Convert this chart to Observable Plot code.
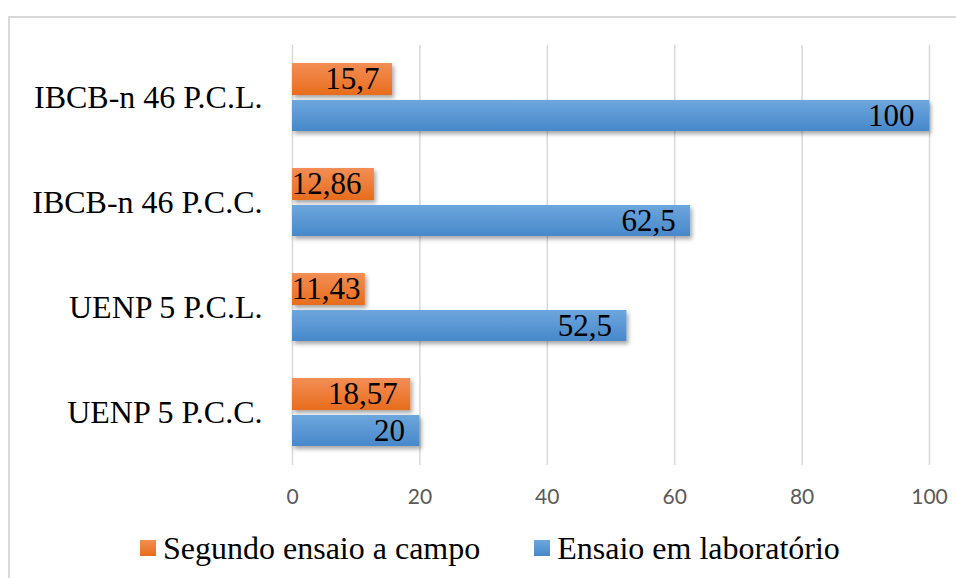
<!DOCTYPE html>
<html>
<head>
<meta charset="utf-8">
<script src="https://cdn.jsdelivr.net/npm/d3@7"></script>
<script src="https://cdn.jsdelivr.net/npm/@observablehq/plot@0.6"></script>
<style>
  html, body { margin: 0; padding: 0; background: #fff; }
  #frame {
    position: absolute; left: 8px; top: 16px; width: 948px; height: 562px;
    border-left: 2px solid #d9d9d9; border-top: 2px solid #d9d9d9; box-sizing: border-box;
  }
  #legend {
    display: flex; align-items: center; height: 60px; padding-left: 130px;
    font-family: "Liberation Serif", "Times New Roman", serif; font-size: 32px; color: #000;
  }
  .item { display: flex; align-items: center; }
  .sw { width: 16px; height: 16px; margin-right: 7px; }
</style>
</head>
<body>
<div id="frame">
  <div id="chart"></div>
  <div id="legend"></div>
</div>
<script>
const categories = ["IBCB-n 46 P.C.L.", "IBCB-n 46 P.C.C.", "UENP 5 P.C.L.", "UENP 5 P.C.C."];
const seriesNames = ["Segundo ensaio a campo", "Ensaio em laboratório"];
const campo = [15.7, 12.86, 11.43, 18.57];
const laboratorio = [100, 62.5, 52.5, 20];
const xTicks = [0, 20, 40, 60, 80, 100];

const rowsCampo = categories.map((c, i) => ({cat: c, value: campo[i]}));
const rowsLab = categories.map((c, i) => ({cat: c, value: laboratorio[i]}));
const fmt = v => String(v).replace(".", ",");
// a label never starts left of the bar's base: short bars push it to the right
const labelX = d => Math.max(d.value, 12.7);

const serif = "Liberation Serif";

const chart = Plot.plot({
  width: 946,
  height: 500,
  marginLeft: 282,
  marginRight: 27,
  marginTop: 27,
  marginBottom: 53,
  style: {background: "transparent", overflow: "visible"},
  x: {domain: [0, 100]},
  y: {domain: categories, paddingInner: 0.352, paddingOuter: 0.176, axis: null},
  marks: [
    Plot.ruleX(xTicks, {stroke: "#d9d9d9", strokeWidth: 1.5}),
    Plot.barX(rowsCampo, {x: "value", y: "cat", fill: "url(#gO)", insetBottom: 36}),
    Plot.barX(rowsLab, {x: "value", y: "cat", fill: "url(#gB)", insetTop: 37}),
    Plot.text(rowsCampo, {x: labelX, y: "cat", text: d => fmt(d.value), textAnchor: "end", dx: -13, dy: -18, fontSize: 31, fontFamily: serif, fill: "#000"}),
    Plot.text(rowsLab, {x: labelX, y: "cat", text: d => fmt(d.value), textAnchor: "end", dx: -15, dy: 18.5, fontSize: 31, fontFamily: serif, fill: "#000"}),
    Plot.axisY({anchor: "left", tickSize: 0, tickPadding: 30, fontSize: 32, fontFamily: serif, color: "#000", label: null}),
    Plot.axisX({ticks: xTicks, tickSize: 0, tickPadding: 24, fontSize: 21, fontFamily: "Lato", color: "#595959", label: null, tickFormat: d => String(d)})
  ]
});

const ns = "http://www.w3.org/2000/svg";
const defs = document.createElementNS(ns, "defs");
defs.innerHTML = `
  <linearGradient id="gO" x1="0" y1="0" x2="0" y2="1">
    <stop offset="0" stop-color="#F38E55"/>
    <stop offset="1" stop-color="#E86C1C"/>
  </linearGradient>
  <linearGradient id="gB" x1="0" y1="0" x2="0" y2="1">
    <stop offset="0" stop-color="#6DA6DD"/>
    <stop offset="1" stop-color="#4788CA"/>
  </linearGradient>
  <filter id="sh" x="-5%" y="-30%" width="115%" height="180%">
    <feDropShadow dx="2" dy="3" stdDeviation="2" flood-color="#000" flood-opacity="0.35"/>
  </filter>`;
chart.prepend(defs);
chart.querySelectorAll('g[aria-label="bar"]').forEach(g => g.setAttribute("filter", "url(#sh)"));

document.getElementById("chart").appendChild(chart);

const legend = document.getElementById("legend");
seriesNames.forEach((name, i) => {
  const item = document.createElement("div");
  item.className = "item";
  if (i > 0) item.style.marginLeft = "54px";
  const sw = document.createElement("div");
  sw.className = "sw";
  sw.style.background = i === 0 ? "linear-gradient(#F38E55, #E86C1C)" : "linear-gradient(#6DA6DD, #4788CA)";
  const t = document.createElement("span");
  t.textContent = name;
  item.appendChild(sw);
  item.appendChild(t);
  legend.appendChild(item);
});
</script>
</body>
</html>
